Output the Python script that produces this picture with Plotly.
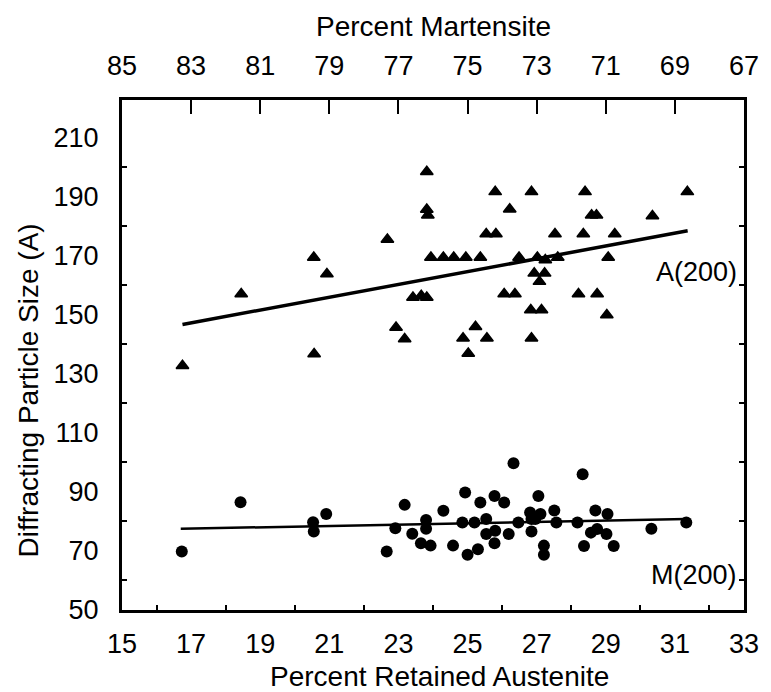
import plotly.graph_objects as go

# ---- data ----
a_x = [23.82, 23.82, 23.85, 22.68,
       23.94, 24.30, 24.60, 24.95, 25.37, 26.49, 27.02, 27.25, 27.61, 29.07,
       20.55, 20.93, 18.45, 23.42, 23.66, 23.82, 22.93, 23.18, 20.56, 16.75,
       25.80, 26.85, 28.40, 31.36, 26.22, 28.59, 28.73, 30.35,
       25.54, 25.82, 27.53, 28.35, 29.26,
       26.93, 27.23, 27.08, 26.06, 26.37, 28.21, 28.75,
       26.83, 27.14, 29.03, 25.23, 24.87, 25.56, 26.85, 25.02]
a_y = [198.4, 185.6, 183.7, 175.5,
       169.4, 169.4, 169.4, 169.4, 169.4, 169.4, 169.4, 168.5, 169.4, 169.4,
       169.4, 163.8, 157.0, 155.8, 156.4, 155.8, 145.7, 141.8, 136.7, 132.7,
       191.6, 191.6, 191.6, 191.6, 185.7, 183.7, 183.7, 183.4,
       177.3, 177.3, 177.3, 177.3, 177.3,
       164.0, 164.0, 161.2, 157.0, 157.0, 157.0, 157.0,
       151.6, 151.6, 149.9, 145.9, 142.0, 142.0, 142.0, 136.9]

m_x = [16.73, 18.43, 20.53, 20.55, 20.91, 22.66, 22.91, 23.18, 23.40, 23.65,
       23.80, 23.80, 23.93, 24.30, 24.58, 24.85, 24.93, 25.00, 25.20, 25.30,
       25.37, 25.54, 25.54, 25.78, 25.78, 25.80, 26.06, 26.19, 26.33, 26.47,
       26.81, 26.85, 26.85, 27.11, 26.96, 27.05, 27.21, 27.21, 27.51, 27.57,
       28.18, 28.33, 28.37, 28.57, 28.70, 28.75, 29.05, 29.02, 29.23, 30.32, 31.33]
m_y = [69.8, 86.5, 79.7, 76.6, 82.5, 69.8, 77.7, 85.6, 75.8, 72.6,
       80.5, 77.5, 71.8, 83.6, 71.8, 79.6, 89.8, 68.7, 79.6, 70.6,
       86.4, 80.8, 75.7, 88.6, 72.6, 76.8, 86.4, 75.7, 99.7, 79.6,
       83.0, 80.8, 76.6, 82.5, 80.8, 88.6, 71.8, 68.7, 83.7, 79.6,
       79.6, 96.0, 71.7, 76.2, 83.7, 77.4, 82.5, 75.7, 71.7, 77.5, 79.6]

a_fit_x = [16.75, 31.37]
a_fit_y = [146.7, 178.4]
m_fit_x = [16.70, 31.33]
m_fit_y = [77.5, 80.8]

x_ticks = list(range(15, 34, 2))
x_minor = list(range(16, 33, 2))
top_ticks = list(range(85, 66, -2))
y_ticks = list(range(50, 211, 20))
y_minor = list(range(60, 201, 20))

FONT = "Liberation Sans, Arial, sans-serif"
FS_TICK = 27
FS_TITLE = 28

fig = go.Figure()
fig.add_trace(go.Scatter(x=a_x, y=a_y, mode="markers",
                         marker=dict(symbol="triangle-up", size=11, color="black",
                                     line=dict(color="black", width=1.5)),
                         showlegend=False))
fig.add_trace(go.Scatter(x=m_x, y=m_y, mode="markers",
                         marker=dict(symbol="circle", size=12, color="black"),
                         showlegend=False))
fig.add_trace(go.Scatter(x=a_fit_x, y=a_fit_y, mode="lines",
                         line=dict(color="black", width=3.5), showlegend=False))
fig.add_trace(go.Scatter(x=m_fit_x, y=m_fit_y, mode="lines",
                         line=dict(color="black", width=2.5), showlegend=False))
# invisible trace to carry the top axis
fig.add_trace(go.Scatter(x=[85, 67], y=[50, 50], xaxis="x2", mode="markers",
                         marker=dict(opacity=0), hoverinfo="skip", showlegend=False))

fig.update_layout(
    width=771, height=692,
    margin=dict(l=122, r=20, t=100, b=82),
    plot_bgcolor="white", paper_bgcolor="white",
    font=dict(family=FONT, size=FS_TICK, color="black"),
    xaxis=dict(range=[15, 33], tickvals=x_ticks, ticks="", showgrid=False, zeroline=False,
               showline=True, linewidth=3, linecolor="black", mirror=True,
               ticklabelstandoff=8,
               minor=dict(tickvals=x_minor, ticks="inside", ticklen=5, tickwidth=1.5,
                          tickcolor="black", showgrid=False),
               tickfont=dict(size=FS_TICK)),
    xaxis2=dict(range=[85, 67], overlaying="x", side="top", tickvals=top_ticks,
                ticks="inside", ticklen=14, tickwidth=1.5, tickcolor="black",
                showgrid=False, zeroline=False, showline=False,
                ticklabelstandoff=19, tickfont=dict(size=FS_TICK)),
    yaxis=dict(range=[50, 222.7], tickvals=y_ticks, ticks="", showgrid=False, zeroline=False,
               showline=True, linewidth=3, linecolor="black", mirror="ticks",
               ticklabelstandoff=15,
               minor=dict(tickvals=y_minor, ticks="inside", ticklen=5, tickwidth=1.5,
                          tickcolor="black", showgrid=False),
               tickfont=dict(size=FS_TICK)),
    annotations=[
        dict(text="Percent Retained Austenite", xref="paper", yref="paper",
             x=0.51, y=-0.131, xanchor="center", yanchor="middle", showarrow=False,
             font=dict(size=FS_TITLE)),
        dict(text="Percent Martensite", xref="paper", yref="paper",
             x=0.5, y=1.145, xanchor="center", yanchor="middle", showarrow=False,
             font=dict(size=FS_TITLE)),
        dict(text="Diffracting Particle Size (A)", xref="paper", yref="paper",
             x=-0.15, y=0.43, xanchor="center", yanchor="middle", showarrow=False,
             textangle=-90, font=dict(size=FS_TITLE)),
        dict(text="A(200)", x=33, y=164.5, xref="x", yref="y", xanchor="right",
             yanchor="middle", xshift=-5, showarrow=False, font=dict(size=FS_TICK)),
        dict(text="M(200)", x=33, y=62, xref="x", yref="y", xanchor="right",
             yanchor="middle", xshift=-5, showarrow=False, font=dict(size=FS_TICK)),
    ],
)

fig.write_html("out.html")
